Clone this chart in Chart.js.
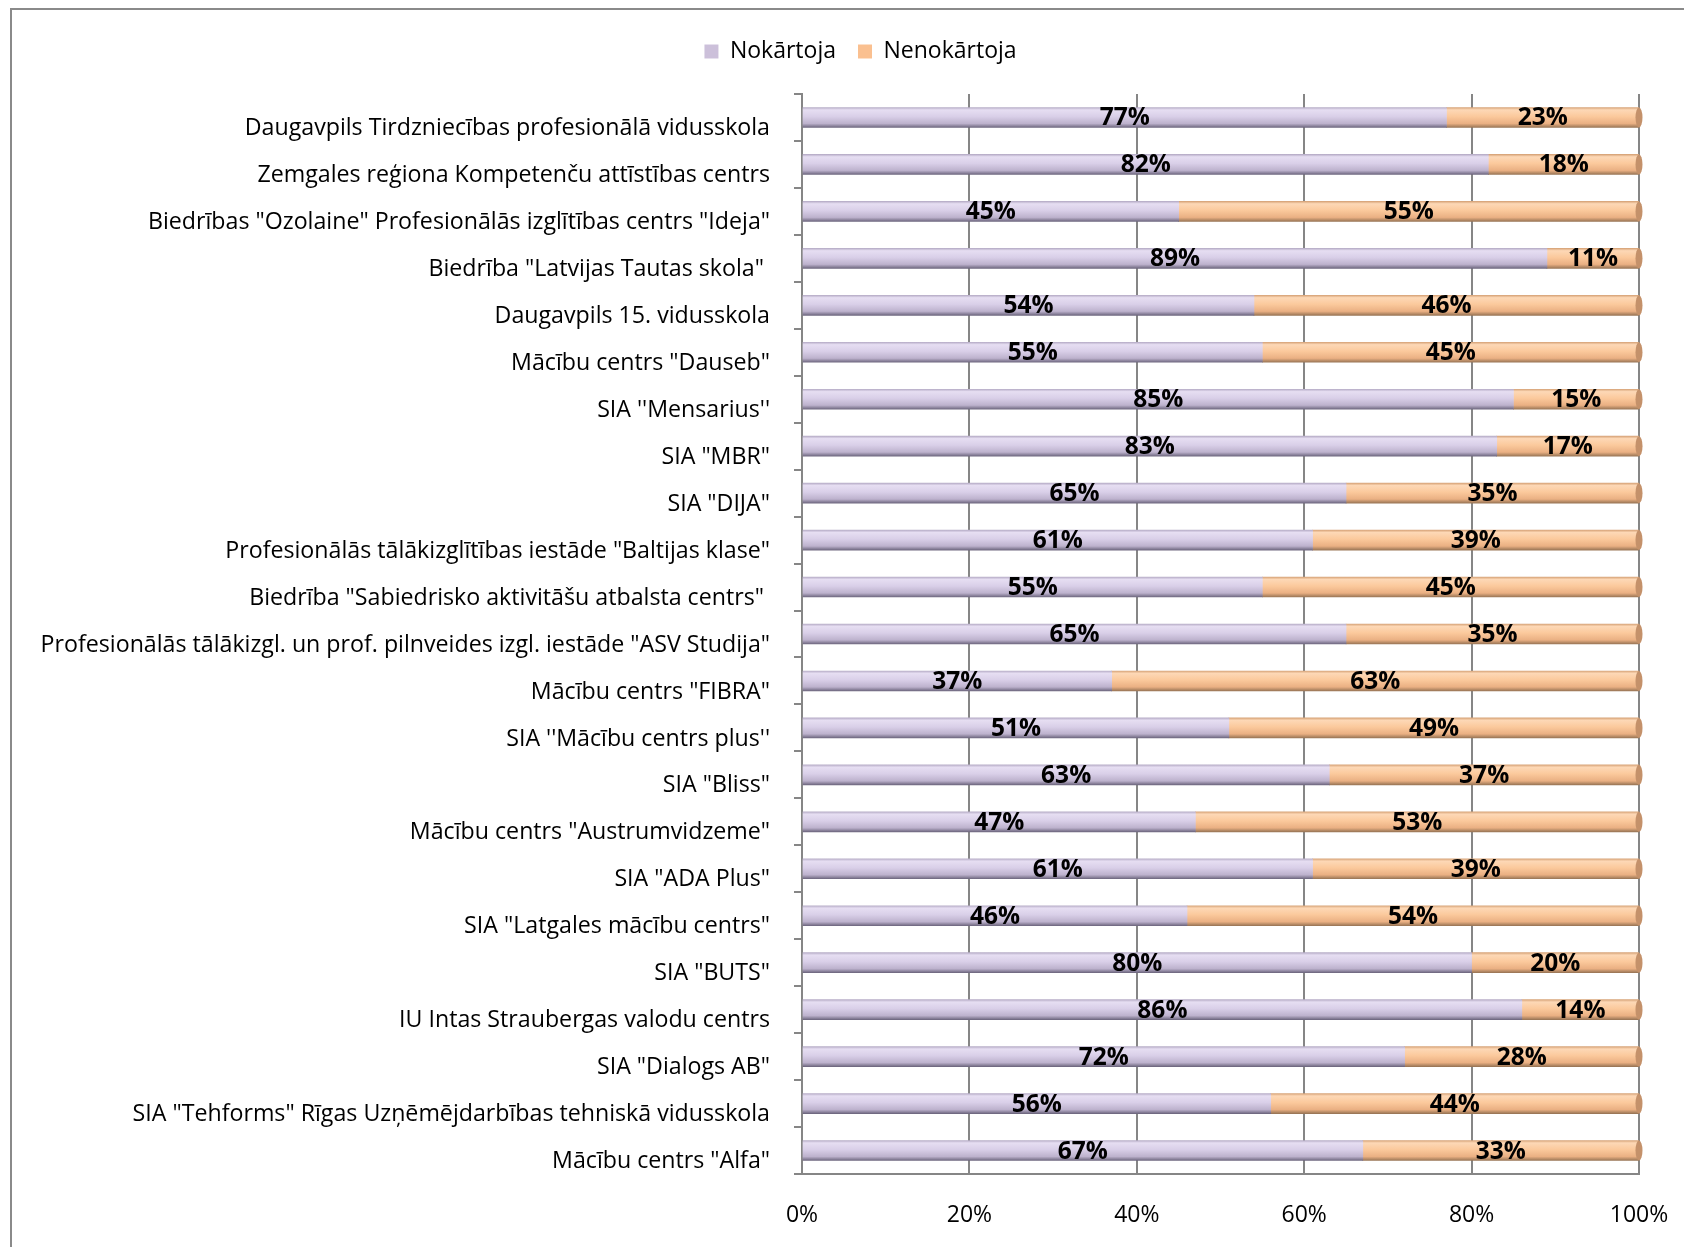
<!DOCTYPE html>
<html><head><meta charset="utf-8">
<script src="https://cdn.jsdelivr.net/npm/chart.js@4"></script>
<style>
html,body{margin:0;padding:0;background:#fff;}
#wrap{position:relative;width:1684px;height:1247px;overflow:hidden;}
#frame{position:absolute;left:10px;top:8px;width:1700px;height:1300px;border-left:2px solid #8a8a8a;border-top:2px solid #8a8a8a;}
canvas{position:absolute;left:0;top:0;}
</style></head>
<body><div id="wrap"><div id="frame"></div><canvas id="c" width="1684" height="1247"></canvas></div>
<script>
const categories = [
 'Daugavpils Tirdzniecības profesionālā vidusskola',
 'Zemgales reģiona Kompetenču attīstības centrs',
 'Biedrības "Ozolaine" Profesionālās izglītības centrs "Ideja"',
 'Biedrība "Latvijas Tautas skola" ',
 'Daugavpils 15. vidusskola',
 'Mācību centrs "Dauseb"',
 "SIA ''Mensarius''",
 'SIA "MBR"',
 'SIA "DIJA"',
 'Profesionālās tālākizglītības iestāde "Baltijas klase"',
 'Biedrība "Sabiedrisko aktivitāšu atbalsta centrs" ',
 'Profesionālās tālākizgl. un prof. pilnveides izgl. iestāde "ASV Studija"',
 'Mācību centrs "FIBRA"',
 "SIA ''Mācību centrs plus''",
 'SIA "Bliss"',
 'Mācību centrs "Austrumvidzeme"',
 'SIA "ADA Plus"',
 'SIA "Latgales mācību centrs"',
 'SIA "BUTS"',
 'IU Intas Straubergas valodu centrs',
 'SIA "Dialogs AB"',
 'SIA "Tehforms" Rīgas Uzņēmējdarbības tehniskā vidusskola',
 'Mācību centrs "Alfa"'
];
const nokartoja   = [77,82,45,89,54,55,85,83,65,61,55,65,37,51,63,47,61,46,80,86,72,56,67];
const nenokartoja = [23,18,55,11,46,45,15,17,35,39,45,35,63,49,37,53,39,54,20,14,28,44,33];
const seriesNames = ['Nokārtoja','Nenokārtoja'];
const xTicks = [0,20,40,60,80,100];

const BAR_T = 20;
function cylGrad(stops){
  return function(ctx){
    const chart = ctx.chart;
    const ys = chart.scales && chart.scales.y;
    if (!ys || ctx.type !== 'data') return stops[2][1];
    const y = ys.getPixelForValue(ctx.dataIndex);
    const g = chart.ctx.createLinearGradient(0, y - BAR_T/2, 0, y + BAR_T/2);
    stops.forEach(s => g.addColorStop(s[0], s[1]));
    return g;
  };
}
const purpleStops = [[0,'#b8aec8'],[0.12,'#e6def2'],[0.45,'#d9cfe8'],[0.8,'#bdb2cd'],[1,'#6f6880']];
const orangeStops = [[0,'#d8a57a'],[0.12,'#fdd8b6'],[0.45,'#fbc99c'],[0.8,'#eab083'],[1,'#9a7656']];

const dataLabels = {
  id:'dataLabels',
  afterDatasetsDraw(chart){
    const c = chart.ctx;
    c.save();
    c.font = 'bold 24.5px "Open Sans"';
    c.fillStyle = '#000';
    c.textAlign = 'center';
    c.textBaseline = 'middle';
    chart.data.datasets.forEach((ds, di) => {
      const meta = chart.getDatasetMeta(di);
      meta.data.forEach((el, i) => {
        const x = (el.x + el.base) / 2;
        c.fillText(ds.data[i] + '%', x, el.y + 1);
      });
    });
    c.restore();
  }
};
const endCaps = {
  id:'endCaps',
  afterDatasetsDraw(chart){
    const c = chart.ctx;
    const meta = chart.getDatasetMeta(1);
    c.save();
    meta.data.forEach(el => {
      c.beginPath();
      c.ellipse(el.x, el.y, 3.5, BAR_T/2, 0, 0, Math.PI*2);
      c.fillStyle = '#c4916a';
      c.fill();
    });
    c.restore();
  }
};
const legendTweak = {
  id:'legendTweak',
  beforeInit(chart){
    const lg = chart.legend;
    const origFit = lg.fit;
    lg.fit = function(){ origFit.call(this); this.height = 76; };
    const origDraw = lg.draw;
    lg.draw = function(){
      const c = chart.ctx; c.save(); c.translate(41, 0); origDraw.call(this); c.restore();
    };
  }
};

new Chart(document.getElementById('c'), {
  type:'bar',
  data:{
    labels: categories,
    datasets:[
      {label: seriesNames[0], data: nokartoja, backgroundColor: cylGrad(purpleStops), borderWidth:0, barThickness: BAR_T},
      {label: seriesNames[1], data: nenokartoja, backgroundColor: cylGrad(orangeStops), borderWidth:0, barThickness: BAR_T}
    ]
  },
  options:{
    indexAxis:'y',
    responsive:false,
    animation:false,
    layout:{padding:{left:0, right:45, top:18, bottom:0}},
    plugins:{
      legend:{
        position:'top',
        labels:{
          font:{family:'Open Sans', size:23},
          color:'#000',
          boxWidth:14, boxHeight:14, padding:22,
          generateLabels(chart){
            return chart.data.datasets.map((d,i)=>({
              text:d.label, fillStyle: i===0 ? '#ccc0da' : '#fac090',
              strokeStyle:'rgba(0,0,0,0)', lineWidth:0, datasetIndex:i, hidden:false
            }));
          }
        }
      },
      tooltip:{enabled:false}
    },
    scales:{
      x:{
        stacked:true, min:0, max:100,
        afterBuildTicks(s){ s.ticks = xTicks.map(v=>({value:v})); },
        afterFit(s){ s.height = 73; s.paddingLeft = 0; s.paddingRight = 0; },
        ticks:{callback:v=>v+'%', font:{family:'Open Sans', size:23}, color:'#000', padding:28, maxRotation:0},
        grid:{color:'#868686', lineWidth:2, drawTicks:false},
        border:{display:true, color:'#868686', width:2}
      },
      y:{
        stacked:true,
        afterFit(s){ s.width = 802; },
        ticks:{font:{family:'Open Sans', size:23.2}, color:'#000', padding:24, labelOffset:11, autoSkip:false},
        grid:{display:true, drawOnChartArea:false, drawTicks:true, tickLength:8, color:'#868686', lineWidth:2},
        border:{display:true, color:'#868686', width:2}
      }
    }
  },
  plugins:[legendTweak, endCaps, dataLabels]
});
</script></body></html>
